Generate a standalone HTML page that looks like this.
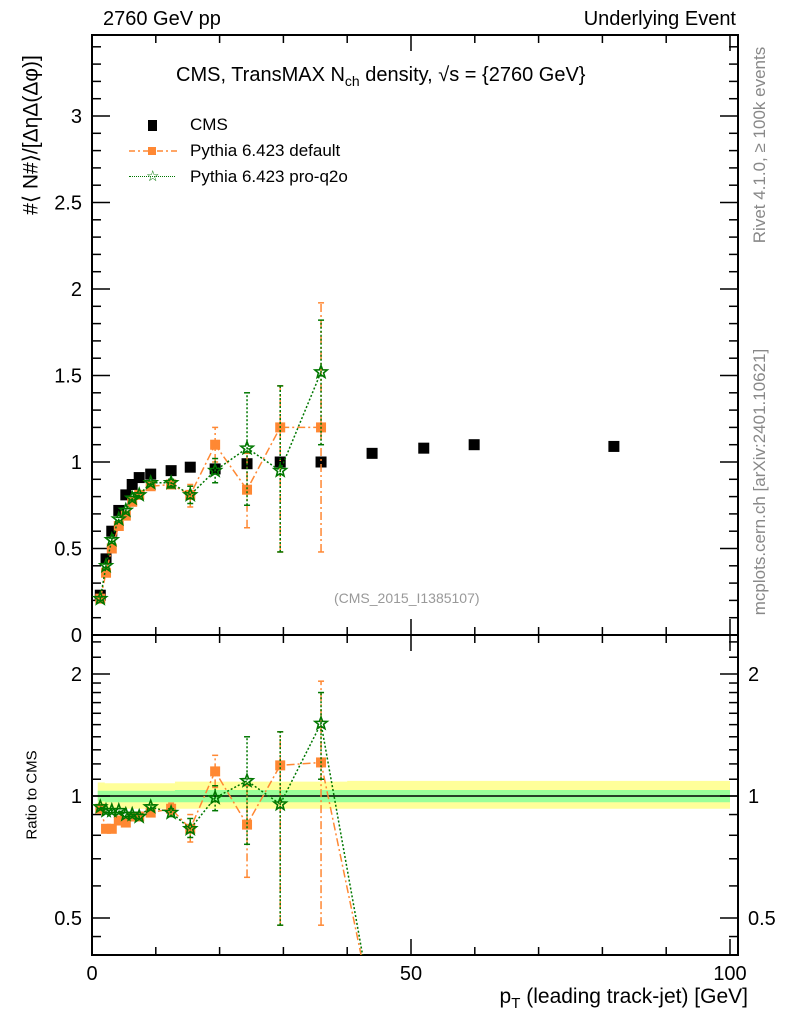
<!DOCTYPE html>
<html><head><meta charset="utf-8"><style>
body{margin:0;background:#fff;width:786px;height:1024px;overflow:hidden;font-family:"Liberation Sans",sans-serif}
svg text{font-family:"Liberation Sans","DejaVu Sans",sans-serif}
</style></head><body>
<svg id="chart" width="786" height="1024" xmlns="http://www.w3.org/2000/svg"></svg>
<script>
const xs=[1.3,2.2,3.1,4.2,5.3,6.3,7.4,9.2,12.4,15.4,19.3,24.3,29.5,35.9,43.9,52,59.9,81.8];
const cms=[0.23,0.44,0.6,0.72,0.81,0.87,0.91,0.93,0.95,0.97,0.96,0.99,1.0,1.0,1.05,1.08,1.1,1.09];
const pyDef=[0.21,0.36,0.5,0.63,0.69,0.77,0.81,0.86,0.87,0.81,1.10,0.84,1.20,1.20];
const pyDefLo=[0.2,0.35,0.49,0.62,0.68,0.76,0.8,0.85,0.86,0.74,1.0,0.62,0.48,0.48];
const pyDefHi=[0.22,0.37,0.51,0.64,0.7,0.78,0.82,0.87,0.9,0.87,1.2,1.05,1.44,1.92];
const pyQ2o=[0.21,0.40,0.55,0.67,0.72,0.79,0.81,0.88,0.88,0.81,0.95,1.08,0.95,1.52];
const pyQ2oLo=[0.2,0.39,0.54,0.66,0.71,0.78,0.8,0.87,0.85,0.76,0.88,0.75,0.48,1.1];
const pyQ2oHi=[0.22,0.41,0.56,0.68,0.73,0.8,0.82,0.89,0.9,0.86,1.02,1.4,1.44,1.82];
const rDef=[0.93,0.83,0.83,0.87,0.86,0.89,0.89,0.91,0.93,0.83,1.15,0.85,1.19,1.21,0.3];
const rDefLo=[0.92,0.82,0.82,0.86,0.85,0.88,0.88,0.9,0.9,0.77,1.05,0.63,0.48,0.48,0.3];
const rDefHi=[0.94,0.84,0.84,0.88,0.87,0.9,0.9,0.92,0.96,0.9,1.26,1.06,1.44,1.92,0.3];
const rQ2o=[0.94,0.92,0.92,0.92,0.90,0.90,0.89,0.94,0.91,0.83,0.99,1.09,0.955,1.51,0.3];
const rQ2oLo=[0.93,0.91,0.91,0.91,0.89,0.89,0.88,0.93,0.89,0.79,0.92,0.76,0.48,1.1,0.3];
const rQ2oHi=[0.95,0.93,0.93,0.93,0.91,0.91,0.9,0.95,0.93,0.88,1.06,1.4,1.44,1.8,0.3];
const bandYlo=[0.93,0.93,0.93,0.93];
const bandYhi=[1.08,1.075,1.085,1.09];
const bandGlo=[0.97,0.965,0.965,0.965];
const bandGhi=[1.03,1.03,1.035,1.035];
const bandX=[0.9,2,13,40,100];
const xTicks=[0,50,100];
const yTicks=[0,0.5,1,1.5,2,2.5,3];
const rTicks=[0.5,1,2];

const S=document.getElementById('chart');const NS='http://www.w3.org/2000/svg';
function el(t,a,p){const e=document.createElementNS(NS,t);for(const k in a)e.setAttribute(k,a[k]);(p||S).appendChild(e);return e;}
const L=92,R=738,T=35,M=635,B=955;
const X=v=>L+v*6.38;
const Y=v=>M-v*173;
const RY=v=>796-Math.log2(v)*122;

const defs=el('defs',{});
const c1=el('clipPath',{id:'cm'},defs);el('rect',{x:L,y:T,width:R-L,height:M-T},c1);
const c2=el('clipPath',{id:'cr'},defs);el('rect',{x:L,y:M,width:R-L,height:B-M},c2);

function band(lo,hi,col,name){let pts=[];for(let i=0;i<lo.length;i++){pts.push([X(bandX[i]),RY(hi[i])],[X(bandX[i+1]),RY(hi[i])]);}
for(let i=lo.length-1;i>=0;i--){pts.push([X(bandX[i+1]),RY(lo[i])],[X(bandX[i]),RY(lo[i])]);}
const p=el('polygon',{points:pts.map(q=>q.join(',')).join(' '),fill:col,'clip-path':'url(#cr)'});

}
band(bandYlo,bandYhi,'#ffff99','ratio-band-yellow');
band(bandGlo,bandGhi,'#99ff99','ratio-band-green');
el('line',{x1:L,x2:R,y1:RY(1),y2:RY(1),stroke:'#000','stroke-width':1.5});

for(const [y1,y2,n] of [[T,M,'main-frame'],[M,B,'ratio-frame']]){
const r=el('rect',{x:L,y:y1,width:R-L,height:y2-y1,fill:'none',stroke:'#000','stroke-width':2});

}

for(let v=0;v<=100;v+=10){const maj=v%50==0;const l=maj?16:8;
for(const [y0,y1] of [[M,T],[B,M]]){el('line',{x1:X(v),x2:X(v),y1:y0,y2:y0-l,stroke:'#000','stroke-width':1.5});el('line',{x1:X(v),x2:X(v),y1:y1,y2:y1+l,stroke:'#000','stroke-width':1.5});}}
for(const v of xTicks){const t=el('text',{x:X(v),y:980,'font-size':20,'text-anchor':'middle'});t.textContent=v;

}
for(let i=0;i<=34;i++){const v=i/10;const maj=i%5==0;const l=maj?18:9;
el('line',{x1:L,x2:L+l,y1:Y(v),y2:Y(v),stroke:'#000','stroke-width':1.5});el('line',{x1:R,x2:R-l,y1:Y(v),y2:Y(v),stroke:'#000','stroke-width':1.5});}
for(const v of yTicks){const t=el('text',{x:82,y:Y(v)+7,'font-size':20,'text-anchor':'end'});t.textContent=v;

}
const rMin=[0.5,0.6,0.7,0.8,0.9,1,1.1,1.2,1.3,1.4,1.5,1.6,1.7,1.8,1.9,2,2.2,2.4];
for(const v of rMin){const maj=rTicks.includes(v);const l=maj?18:9;if(RY(v)<M)continue;
el('line',{x1:L,x2:L+l,y1:RY(v),y2:RY(v),stroke:'#000','stroke-width':1.5});el('line',{x1:R,x2:R-l,y1:RY(v),y2:RY(v),stroke:'#000','stroke-width':1.5});}
el('line',{x1:L,x2:L+9,y1:RY(0.45),y2:RY(0.45),stroke:'#000','stroke-width':1.5});el('line',{x1:R,x2:R-9,y1:RY(0.45),y2:RY(0.45),stroke:'#000','stroke-width':1.5});
for(const v of rTicks){for(const [x,a] of [[82,'end'],[748,'start']]){const t=el('text',{x:x,y:RY(v)+7,'font-size':20,'text-anchor':a});t.textContent=v;

}}

function star(cx,cy,r,g){let p=[];for(let i=0;i<10;i++){const a=-Math.PI/2+i*Math.PI/5;const rr=i%2?r*0.42:r;p.push((cx+rr*Math.cos(a)).toFixed(1)+','+(cy+rr*Math.sin(a)).toFixed(1));}
return el('polygon',{points:p.join(' '),fill:'none',stroke:'#007700','stroke-width':1.6},g);}
function series(vals,lo,hi,yf,col,dash,kind,clip,name){
const g=el('g',{'clip-path':clip});
el('polyline',{points:vals.map((v,i)=>X(xs[i])+','+yf(v)).join(' '),fill:'none',stroke:col,'stroke-width':1.5,'stroke-dasharray':dash},g);
vals.forEach((v,i)=>{if(lo[i]<v||hi[i]>v){el('line',{x1:X(xs[i]),x2:X(xs[i]),y1:yf(lo[i]),y2:yf(hi[i]),stroke:col,'stroke-width':1.5,'stroke-dasharray':dash},g);
el('line',{x1:X(xs[i])-3,x2:X(xs[i])+3,y1:yf(hi[i]),y2:yf(hi[i]),stroke:col,'stroke-width':1.5},g);el('line',{x1:X(xs[i])-3,x2:X(xs[i])+3,y1:yf(lo[i]),y2:yf(lo[i]),stroke:col,'stroke-width':1.5},g);}
if(kind=='sq'){const m=el('rect',{x:X(xs[i])-5,y:yf(v)-5,width:10,height:10,fill:col},g);}
else{const m=star(X(xs[i]),yf(v),6.5,g);}});}
cms.forEach((v,i)=>{const m=el('rect',{x:X(xs[i])-5.5,y:Y(v)-5.5,width:11,height:11,fill:'#000'});

});
series(pyDef,pyDefLo,pyDefHi,Y,'#ff8833','8,3,2,3','sq','url(#cm)','pythia-default-series');
series(pyQ2o,pyQ2oLo,pyQ2oHi,Y,'#007700','2,2','st','url(#cm)','pythia-pro-q2o-series');
series(rDef,rDefLo,rDefHi,RY,'#ff8833','8,3,2,3','sq','url(#cr)','ratio-pythia-default');
series(rQ2o,rQ2oLo,rQ2oHi,RY,'#007700','2,2','st','url(#cr)','ratio-pythia-pro-q2o');
</script>
<div style="position:absolute;left:0;top:0;width:786px;height:1024px;pointer-events:none;font-size:20px">
<div style="position:absolute;left:103px;top:8px">2760 GeV pp</div>
<div style="position:absolute;right:50px;top:8px">Underlying Event</div>
<div style="position:absolute;left:176px;top:64px">CMS, TransMAX N<sub style="font-size:14px">ch</sub> density, √s = {2760 GeV}</div>
<div style="position:absolute;left:125px;top:112px;font-size:17px;line-height:26px">
<div style="position:relative;padding-left:65px"><span style="position:absolute;left:23px;top:8px;width:9px;height:11px;background:#000"></span>CMS</div>
<div style="position:relative;padding-left:65px"><svg style="position:absolute;left:4px;top:8px" width="48" height="10"><line x1="0" y1="5" x2="48" y2="5" stroke="#ff8833" stroke-width="1.5" stroke-dasharray="6,3,2,3"/><rect x="19" y="1" width="8" height="8" fill="#ff8833"/></svg>Pythia 6.423 default</div>
<div style="position:relative;padding-left:65px"><span style="position:absolute;left:4px;top:12px;width:46px;border-top:1.5px dotted #007700"></span><span style="position:absolute;left:21px;top:0px;color:#007700;font-size:15px">☆</span>Pythia 6.423 pro-q2o</div>
</div>
<div style="position:absolute;left:334px;top:590px;font-size:14px;color:#999">(CMS_2015_I1385107)</div>
<div style="position:absolute;left:31px;top:135px;transform:translate(-50%,-50%) rotate(-90deg);white-space:nowrap;font-size:21px">#⟨ N#⟩/[ΔηΔ(Δφ)]</div>
<div style="position:absolute;left:32px;top:795px;transform:translate(-50%,-50%) rotate(-90deg);white-space:nowrap;font-size:15px">Ratio to CMS</div>
<div style="position:absolute;left:760px;top:145px;transform:translate(-50%,-50%) rotate(-90deg);white-space:nowrap;font-size:17px;color:#888">Rivet 4.1.0, ≥ 100k events</div>
<div style="position:absolute;left:760px;top:482px;transform:translate(-50%,-50%) rotate(-90deg);white-space:nowrap;font-size:17px;color:#888">mcplots.cern.ch [arXiv:2401.10621]</div>
<div style="position:absolute;right:38px;top:985px;font-size:21px">p<sub style="font-size:15px">T</sub> (leading track-jet) [GeV]</div>
</div>
</body></html>
